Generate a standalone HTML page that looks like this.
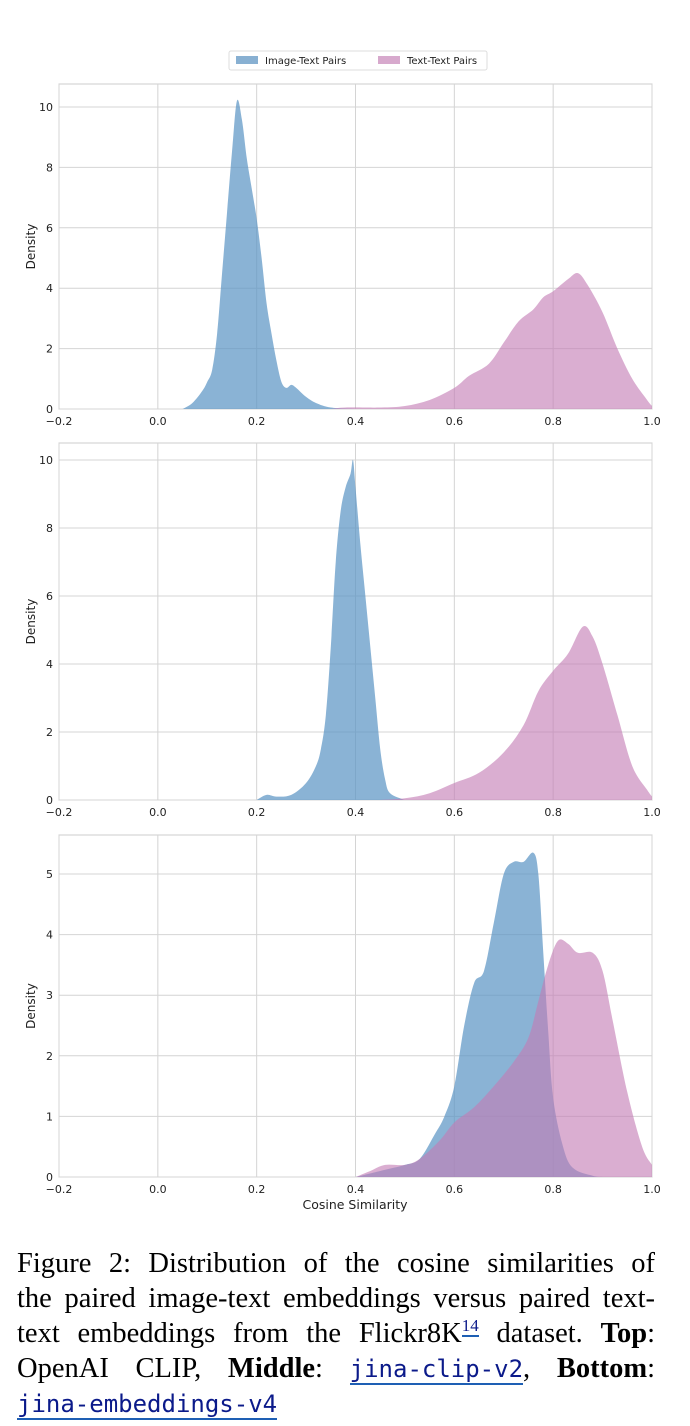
<!DOCTYPE html>
<html><head><meta charset="utf-8">
<style>
html,body{margin:0;padding:0;background:#fff;width:690px;height:1426px;overflow:hidden}
svg text{font-family:"DejaVu Sans","Liberation Sans",sans-serif;fill:#222}
.cap{position:absolute;left:17px;width:638px;height:35px;font-family:"Liberation Serif",serif;font-size:28.5px;line-height:35px;text-align:justify;text-align-last:justify;color:#000;white-space:nowrap}
.mono{font-family:"DejaVu Sans Mono","Liberation Mono",monospace;color:#0b1a8a;font-size:24px;border-bottom:2px solid #1e5fb4}
sup{line-height:0;vertical-align:0;position:relative;top:-11px}
</style></head><body>
<svg id="s" width="690" height="1240" style="position:absolute;left:0;top:0">
<rect x="229" y="51" width="258" height="19" rx="2" fill="#fff" stroke="#ddd"/>
<rect x="236" y="56" width="22" height="8" fill="#88b0d2"/>
<text x="265" y="64" font-size="10">Image-Text Pairs</text>
<rect x="378" y="56" width="22" height="8" fill="#d7a9cd"/>
<text x="407" y="64" font-size="10">Text-Text Pairs</text>
</svg>
<div class="cap" style="top:1246px">Figure 2: Distribution of the cosine similarities of</div>
<div class="cap" style="top:1281px">the paired image-text embeddings versus paired text-</div>
<div class="cap" style="top:1316px">text embeddings from the Flickr8K<sup style="font-size:17px;color:#0b1a8a;border-bottom:2px solid #1e5fb4">14</sup> dataset. <b>Top</b>:</div>
<div class="cap" style="top:1351px">OpenAI CLIP, <b>Middle</b>: <span class="mono">jina-clip-v2</span>, <b>Bottom</b>:</div>
<div class="cap" style="top:1386px;text-align:left;text-align-last:left"><span class="mono">jina-embeddings-v4</span></div>
<script>
const s=document.getElementById('s');const NS='http://www.w3.org/2000/svg';
function el(t,a,txt){const e=document.createElementNS(NS,t);for(const k in a)e.setAttribute(k,a[k]);if(txt!==undefined)e.textContent=txt;s.appendChild(e);return e;}
const X0=59,X1=652;const px=x=>X0+(x+0.2)/1.2*(X1-X0);
const panels=[
{top:84,y0:409,ppu:30.2,ticks:[0,2,4,6,8,10],
blue:[[0.05,0],[0.07,0.2],[0.09,0.6],[0.1,0.9],[0.11,1.3],[0.12,2.5],[0.13,4.5],[0.14,6.5],[0.15,8.5],[0.16,10.2],[0.17,9.6],[0.18,8.3],[0.19,7.3],[0.2,6.3],[0.21,5],[0.22,3.5],[0.23,2.5],[0.24,1.6],[0.25,0.9],[0.26,0.7],[0.27,0.8],[0.28,0.7],[0.3,0.4],[0.32,0.2],[0.35,0.05],[0.4,0]],
pink:[[0.35,0],[0.38,0.05],[0.45,0.05],[0.5,0.1],[0.55,0.3],[0.6,0.7],[0.63,1.1],[0.67,1.5],[0.7,2.2],[0.73,2.9],[0.76,3.3],[0.78,3.7],[0.8,3.9],[0.83,4.3],[0.85,4.5],[0.87,4.1],[0.9,3.2],[0.93,2.0],[0.96,1.0],[0.99,0.3],[1.0,0.1]]},
{top:443,y0:800,ppu:34,ticks:[0,2,4,6,8,10],
blue:[[0.2,0],[0.22,0.15],[0.24,0.1],[0.27,0.15],[0.3,0.5],[0.32,1],[0.33,1.5],[0.34,2.5],[0.35,4.5],[0.36,7],[0.37,8.5],[0.38,9.2],[0.39,9.6],[0.395,10],[0.4,9.2],[0.41,7.5],[0.42,6],[0.43,4.5],[0.44,3.0],[0.45,1.5],[0.46,0.6],[0.47,0.2],[0.5,0]],
pink:[[0.45,0],[0.5,0.05],[0.55,0.2],[0.6,0.5],[0.65,0.8],[0.7,1.4],[0.74,2.2],[0.77,3.2],[0.8,3.8],[0.83,4.3],[0.86,5.1],[0.88,4.8],[0.9,4.0],[0.93,2.5],[0.96,1.0],[0.99,0.3],[1.0,0.1]]},
{top:835,y0:1177,ppu:60.6,ticks:[0,1,2,3,4,5],xlabel:1,
blue:[[0.4,0],[0.45,0.1],[0.5,0.2],[0.53,0.3],[0.56,0.7],[0.58,1.0],[0.6,1.5],[0.62,2.5],[0.64,3.2],[0.66,3.4],[0.68,4.2],[0.7,5.0],[0.72,5.2],[0.74,5.2],[0.76,5.35],[0.77,5.0],[0.78,3.7],[0.79,2.4],[0.8,1.3],[0.82,0.5],[0.84,0.15],[0.88,0.02],[0.9,0]],
pink:[[0.4,0],[0.43,0.1],[0.46,0.2],[0.5,0.2],[0.53,0.3],[0.57,0.6],[0.6,0.9],[0.64,1.15],[0.68,1.5],[0.72,1.9],[0.75,2.3],[0.77,2.9],[0.79,3.5],[0.81,3.9],[0.83,3.85],[0.85,3.7],[0.88,3.7],[0.9,3.4],[0.92,2.6],[0.95,1.4],[0.98,0.5],[1.0,0.2]]}
];
function smooth(pts){let d='M'+pts[0][0]+','+pts[0][1];for(let i=0;i<pts.length-1;i++){const p0=pts[i-1]||pts[i],p1=pts[i],p2=pts[i+1],p3=pts[i+2]||p2;
d+=' C'+(p1[0]+(p2[0]-p0[0])/6)+','+(p1[1]+(p2[1]-p0[1])/6)+' '+(p2[0]-(p3[0]-p1[0])/6)+','+(p2[1]-(p3[1]-p1[1])/6)+' '+p2[0]+','+p2[1];}return d;}
panels.forEach(p=>{
 el('rect',{x:X0,y:p.top,width:X1-X0,height:p.y0-p.top,fill:'#fff',stroke:'#ccc'});
 for(let i=0;i<=6;i++){const x=px(-0.2+0.2*i);el('line',{x1:x,x2:x,y1:p.top,y2:p.y0,stroke:'#d4d4d4'});
  el('text',{x:x,y:p.y0+16,'font-size':11,'text-anchor':'middle'},(i==0?'\u22120.2':(-0.2+0.2*i).toFixed(1)));}
 p.ticks.forEach(t=>{const y=p.y0-t*p.ppu;el('line',{x1:X0,x2:X1,y1:y,y2:y,stroke:'#d4d4d4'});el('text',{x:X0-6,y:y+4,'font-size':11,'text-anchor':'end'},t);});
 el('text',{x:35,y:(p.top+p.y0)/2,'font-size':12,'text-anchor':'middle',transform:'rotate(-90 35 '+(p.top+p.y0)/2+')'},'Density');
 [['blue','#5d95c5',0.72],['pink','#c47cb4',0.62]].forEach(([k,c,o])=>{
  const pts=p[k].map(([x,d])=>[px(x),p.y0-d*p.ppu]);
  const d=smooth(pts)+' L'+pts[pts.length-1][0]+','+p.y0+' L'+pts[0][0]+','+p.y0+'Z';
  el('path',{d:d,fill:c,'fill-opacity':o});});
 if(p.xlabel)el('text',{x:355,y:1209,'font-size':12.5,'text-anchor':'middle'},'Cosine Similarity');
});
</script>
</body></html>
